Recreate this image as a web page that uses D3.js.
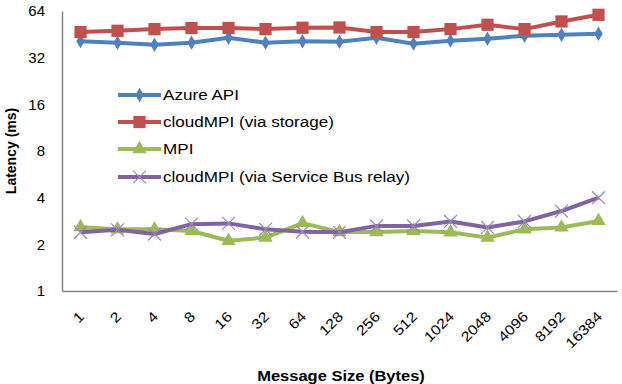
<!DOCTYPE html>
<html><head><meta charset="utf-8">
<script src="https://cdnjs.cloudflare.com/ajax/libs/d3/7.8.5/d3.min.js"></script>
<style>body{margin:0;background:#fff}svg{display:block}</style>
</head><body><svg id="c" width="622" height="384"></svg>
<script>
const categories = ["1","2","4","8","16","32","64","128","256","512","1024","2048","4096","8192","16384"];
const azureAPI = [40.9,40,38.8,40,43,40,40.8,40.5,43,39.4,41.2,42.4,44.3,45,45.6];
const cloudStorage = [46.8,47.7,48.9,49.7,49.7,48.9,49.9,50.1,46.8,46.8,48.9,52.2,48.9,54.8,60.5];
const mpi = [2.58,2.5,2.5,2.44,2.11,2.21,2.74,2.40,2.40,2.44,2.39,2.21,2.5,2.57,2.83];
const cloudRelay = [2.39,2.48,2.33,2.70,2.73,2.5,2.41,2.39,2.63,2.63,2.81,2.57,2.81,3.28,4.0];
const yTicks = [1,2,4,8,16,32,64];
const seriesNames = ["Azure API","cloudMPI (via storage)","MPI","cloudMPI (via Service Bus relay)"];

(function(){
const series = [
  {name:seriesNames[0], values:azureAPI, color:"#4F81BD", marker:"diamond"},
  {name:seriesNames[1], values:cloudStorage, color:"#C0504D", marker:"square"},
  {name:seriesNames[2], values:mpi, color:"#9BBB59", marker:"triangle"},
  {name:seriesNames[3], values:cloudRelay, color:"#8064A2", marker:"x"}
];

const svg = d3.select("#c");
const pl = 62, pr = 617, pt = 11, pb = 291;
const x = d3.scaleBand().domain(categories).range([pl, pr]).padding(0);
const xc = d => x(d) + x.bandwidth()/2;
const y = d3.scaleLog().base(2).domain([1,64]).range([pb, pt]);
const font = "'Liberation Sans', Arial, sans-serif";

const yAxis = svg.append("g").attr("transform",`translate(${pl},0)`)
  .call(d3.axisLeft(y).tickValues(yTicks).tickFormat(d3.format("d")).tickSize(0).tickPadding(17));
yAxis.select(".domain").attr("stroke","#868686").attr("stroke-width",1.5);
yAxis.selectAll("text").attr("font-family",font).attr("font-size",15).attr("fill","#000");

const xAxis = svg.append("g").attr("transform",`translate(0,${pb})`)
  .call(d3.axisBottom(x).tickSize(0).tickPadding(0));
xAxis.select(".domain").attr("stroke","#868686").attr("stroke-width",1.5);
xAxis.selectAll("text").attr("font-family",font).attr("font-size",14).attr("fill","#000")
  .attr("text-anchor","end").attr("y",0).attr("dy","0.35em")
  .attr("transform","translate(1,23) rotate(-45) scale(1.15,1)");

const line = d3.line().x((d,i)=>xc(categories[i])).y(d=>y(d));
const symbolFor = {
  diamond: d3.symbol().type(d3.symbolDiamond).size(60),
  square: d3.symbol().type(d3.symbolSquare).size(150),
  triangle: d3.symbol().type(d3.symbolTriangle).size(90),
  x: d3.symbol().type(d3.symbolTimes).size(110)
};
series.forEach(s=>{
  const g = svg.append("g");
  g.append("path").datum(s.values).attr("d",line).attr("fill","none")
    .attr("stroke",s.color).attr("stroke-width",4).attr("stroke-linejoin","round");
  g.selectAll("path.m").data(s.values).enter().append("path").attr("class","m")
    .attr("transform",(d,i)=>`translate(${xc(categories[i])},${y(d)})`)
    .attr("d",symbolFor[s.marker]())
    .attr("fill", s.marker==="x" ? "none" : s.color)
    .attr("stroke", s.marker==="x" ? "#9a86bd" : "none")
    .attr("stroke-width",1.2);
});

const lg = svg.append("g");
const legY = [95,122,149,177];
series.forEach((s,i)=>{
  const r = lg.append("g").attr("transform",`translate(0,${legY[i]})`);
  r.append("line").attr("x1",118).attr("x2",161).attr("y1",0).attr("y2",0)
    .attr("stroke",s.color).attr("stroke-width",4);
  r.append("path").attr("transform","translate(139.5,0)").attr("d",symbolFor[s.marker]())
    .attr("fill", s.marker==="x" ? "none" : s.color)
    .attr("stroke", s.marker==="x" ? "#9a86bd" : "none").attr("stroke-width",1.2);
  r.append("text").attr("transform","translate(163,0) scale(1.14,1)").attr("dy","0.35em")
    .attr("font-family",font).attr("font-size",15).attr("fill","#000").text(s.name);
});

svg.append("text").attr("transform","translate(16,151) rotate(-90)").attr("text-anchor","middle")
  .attr("font-family",font).attr("font-size",14).attr("font-weight","bold").text("Latency (ms)");
svg.append("text").attr("transform","translate(341,376) scale(1.1,1)").attr("dy","0.35em").attr("text-anchor","middle")
  .attr("font-family",font).attr("font-size",15).attr("font-weight","bold").text("Message  Size (Bytes)");
})();
</script></body></html>
